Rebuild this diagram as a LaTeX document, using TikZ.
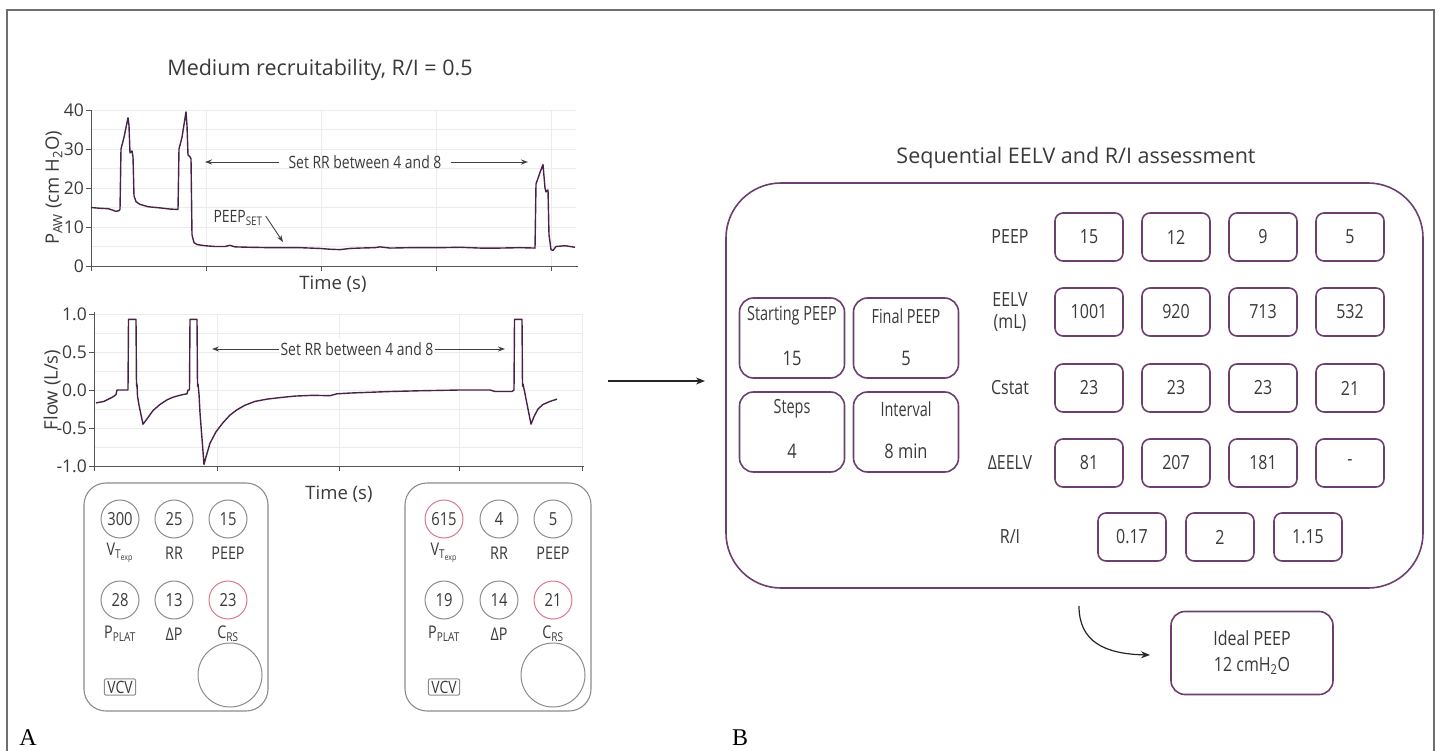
\documentclass[tikz,border=0pt]{standalone}
\usepackage{fontspec}
\setmainfont{Open Sans}
\newfontfamily\condfont[FakeStretch=0.82]{Open Sans}
\newfontfamily\narrowfont[FakeStretch=0.74]{Open Sans}
\newfontfamily\serifA{Liberation Serif}
\usetikzlibrary{arrows.meta}
\definecolor{curvec}{HTML}{4A2248}
\definecolor{boxc}{HTML}{6D3F6F}
\definecolor{txt}{HTML}{3A3A3A}
\definecolor{gridc}{HTML}{ECECEC}
\definecolor{axisc}{HTML}{555555}
\definecolor{circg}{HTML}{8C8C8C}
\definecolor{circred}{HTML}{E0758C}
\definecolor{framec}{HTML}{6E6E6E}
\definecolor{annc}{HTML}{404040}
\begin{document}
\begin{tikzpicture}[x=1pt,y=-1pt,
  ax/.style={draw=axisc, line width=0.9},
  gridl/.style={draw=gridc, line width=0.8},
  wave/.style={draw=curvec, line width=1.4, line join=round},
  ann/.style={draw=annc, line width=0.9, -{Stealth[length=7pt,width=5pt]}},
  conn/.style={draw=black!85, line width=1.2, -{Stealth[length=9pt,width=7pt]}},
  ticklab/.style={font=\fontsize{17.5}{17.5}\selectfont, text=txt, inner sep=1pt},
  axlab/.style={font=\fontsize{18.5}{18.5}\selectfont, text=txt},
  title/.style={font=\fontsize{21.5}{21.5}\selectfont, text=txt},
  annlab/.style={font=\condfont\fontsize{17}{17}\selectfont, text=txt},
  pbox/.style={draw=circg, line width=1.1, rounded corners=22},
  circ/.style={circle, draw=circg, line width=1, minimum size=38pt, inner sep=0pt, font=\condfont\fontsize{18}{18}\selectfont, text=txt},
  circr/.style={circ, draw=circred},
  bigcirc/.style={circle, draw=circg, line width=1, minimum size=64pt, inner sep=0pt},
  clab/.style={font=\condfont\fontsize{17.5}{17.5}\selectfont, text=txt},
  vcv/.style={draw=circg, line width=1, rounded corners=2, inner xsep=3pt, inner ysep=2pt, font=\condfont\fontsize{17}{17}\selectfont, text=txt},
  vbox/.style={draw=boxc, line width=1.6, rounded corners=8, minimum width=68pt, minimum height=48pt, inner sep=0pt, font=\condfont\fontsize{19.5}{19.5}\selectfont, text=txt},
  rlab/.style={font=\condfont\fontsize{19.5}{22}\selectfont, text=txt, align=center},
  parbox/.style={draw=boxc, line width=1.6, rounded corners=14, minimum width=105pt, minimum height=80pt},
  parlab/.style={font=\narrowfont\fontsize{19.5}{19.5}\selectfont, text=txt},
  parval/.style={font=\condfont\fontsize{20}{20}\selectfont, text=txt},
  bigbox/.style={draw=boxc, line width=1.6, rounded corners=55},
  idealbox/.style={draw=boxc, line width=1.6, rounded corners=14, minimum width=162pt, minimum height=83pt, align=center, font=\condfont\fontsize{19.5}{26}\selectfont, text=txt},
  panlab/.style={font=\serifA\fontsize{24}{24}\selectfont, text=black}
]
\useasboundingbox (0,0) rectangle (1440,751);
\fill[white] (0,0) rectangle (1440,751);
\draw[framec, line width=2.2] (7,760) -- (7,10) -- (1434,10) -- (1434,760);

% ---------------- Panel A ----------------
\node[title] (titleA) at (320,70) {Medium recruitability, R/I = 0.5};

% Pressure plot
\foreach \v in {5,10,...,40} \draw[gridl] (91,{266-3.9*\v}) -- (576,{266-3.9*\v});
\foreach \x in {206,321,436,551} \draw[gridl] (\x,110) -- (\x,266);
\draw[ax] (91,110) -- (91,266) -- (578,266);
\foreach \v/\n in {0/a,10/b,20/c,30/d,40/e} {
  \draw[ax] (86,{266-3.9*\v}) -- (91,{266-3.9*\v});
  \node[ticklab, anchor=east] (pl\n) at (85,{266-3.9*\v}) {\v};
}
\foreach \x in {91,206,321,436,551} \draw[ax] (\x,266) -- (\x,271);
\node[axlab, rotate=90] (ylab1) at (54,188) {P\textsubscript{AW} (cm H\textsubscript{2}O)};
\node[axlab] (xlab1) at (333,284) {Time (s)};
\begin{scope}[shift={(0,266)}, yscale=-3.9]
\draw[wave] plot coordinates {(91,15) (100,14.8) (108,14.7) (113,14.3) (116,14.0) (119,14.2) (120,14.5) (121,30) (124,33) (128,38) (129,36) (130,29) (132,29.5) (133,28) (134,18) (136,16.5) (140,15.8) (148,15.2) (160,14.9) (170,14.6) (178,14.5) (179,30) (182,33) (186,39.5) (187,36) (188,28.5) (190,28) (191,27.5) (192,8) (194,6) (197,5.5) (205,5.2) (215,5) (225,5) (230,5.3) (235,4.9) (250,4.8) (270,4.7) (300,4.7) (320,4.5) (330,4.3) (340,4.2) (350,4.5) (360,4.6) (375,4.7) (380,4.9) (390,4.6) (410,4.7) (440,4.7) (460,4.8) (480,4.6) (500,4.6) (520,4.7) (535,4.6) (536,21) (540,24) (543,26) (545,20) (546,19) (548,19.5) (549,8) (551,4.2) (553,4) (556,5) (565,5.2) (570,5) (575,4.8)};
\end{scope}
\node[annlab, inner xsep=9pt] (rr1) at (365,162) {Set RR between 4 and 8};
\coordinate (rr1l) at (205,162);
\coordinate (rr1r) at (528,162);
\draw[ann] (rr1.west) -- (rr1l);
\draw[ann] (rr1.east) -- (rr1r);
\node[annlab, inner sep=1pt] (peepset) at (238,218) {PEEP\textsubscript{SET}};
\coordinate (peeptip) at (283,242);
\draw[ann] ([xshift=2pt,yshift=2pt]peepset.east) -- (peeptip);

% Flow plot
\foreach \v in {-0.75,-0.5,-0.25,0,0.25,0.5,0.75,1} \draw[gridl] (94,{390-76*\v}) -- (582,{390-76*\v});
\foreach \x in {217,339,459,582} \draw[gridl] (\x,314) -- (\x,466);
\draw[ax] (94,312) -- (94,466) -- (584,466);
\foreach \v/\t/\n in {1/1.0/a,0.5/0.5/b,0/0.0/c,-0.5/-0.5/d,-1/-1.0/e} {
  \draw[ax] (89,{390-76*\v}) -- (94,{390-76*\v});
  \node[ticklab, anchor=east] (fl\n) at (88,{390-76*\v}) {\t};
}
\foreach \x in {94,217,339,459,582} \draw[ax] (\x,466) -- (\x,471);
\node[axlab, rotate=90] (ylab2) at (52,390) {Flow (L/s)};
\node[axlab] (xlab2) at (339,494) {Time (s)};
\begin{scope}[shift={(0,390)}, yscale=-76]
\draw[wave] plot coordinates {(96,-0.17) (104,-0.15) (110,-0.11) (113,-0.09) (116,-0.06) (117,0) (122,0.0) (128,0.0) (128.5,0.93) (136,0.93) (136.5,0.05) (137,0.08) (137.5,-0.08) (139,-0.2) (143,-0.45) (147,-0.38) (153,-0.27) (160,-0.19) (167,-0.13) (172,-0.1) (177,-0.08) (183,-0.06) (187,-0.05) (188,0) (189.5,0) (190,0.93) (197,0.93) (197.5,0.05) (198,0.08) (199,-0.05) (200,-0.3) (204,-0.98) (206,-0.88) (210,-0.7) (216,-0.55) (223,-0.43) (230,-0.33) (237,-0.26) (245,-0.2) (255,-0.15) (267,-0.12) (280,-0.1) (295,-0.08) (313,-0.07) (330,-0.075) (337,-0.05) (350,-0.04) (370,-0.03) (390,-0.02) (420,-0.01) (460,0) (490,0) (495,-0.02) (512,-0.02) (514,0) (514.5,0.93) (522,0.93) (522.5,0.05) (523,0.08) (525,-0.05) (531,-0.45) (534,-0.35) (538,-0.25) (543,-0.19) (550,-0.15) (557,-0.12)};
\end{scope}
\node[annlab, inner xsep=1pt, fill=white] (rr2) at (357,349) {Set RR between 4 and 8};
\coordinate (rr2l) at (212,349);
\coordinate (rr2r) at (505,349);
\draw[ann] (rr2.west) -- (rr2l);
\draw[ann] (rr2.east) -- (rr2r);

% Ventilator panels
\draw[pbox] (84,483) rectangle (268,711);
\node[circ] (l1) at (120,519) {300};
\node[circ] (l2) at (174,519) {25};
\node[circ] (l3) at (228,519) {15};
\node[circ] (l4) at (120,600) {28};
\node[circ] (l5) at (174,600) {13};
\node[circr] (l6) at (228,600) {23};
\node[clab] (ll1) at (120,553) {V\textsubscript{T\textsubscript{exp}}};
\node[clab] (ll2) at (174,553) {RR};
\node[clab] (ll3) at (228,553) {PEEP};
\node[clab] (ll4) at (120,634) {P\textsubscript{PLAT}};
\node[clab] (ll5) at (174,634) {ΔP};
\node[clab] (ll6) at (228,634) {C\textsubscript{RS}};
\node[bigcirc] (lbig) at (230,675) {};
\node[vcv] (lvcv) at (120,687) {VCV};

\draw[pbox] (405,483) rectangle (591,711);
\node[circr] (r1) at (444,519) {615};
\node[circ] (r2) at (499,519) {4};
\node[circ] (r3) at (553,519) {5};
\node[circ] (r4) at (444,600) {19};
\node[circ] (r5) at (499,600) {14};
\node[circr] (r6) at (553,600) {21};
\node[clab] (rl1) at (444,553) {V\textsubscript{T\textsubscript{exp}}};
\node[clab] (rl2) at (499,553) {RR};
\node[clab] (rl3) at (553,553) {PEEP};
\node[clab] (rl4) at (444,634) {P\textsubscript{PLAT}};
\node[clab] (rl5) at (499,634) {ΔP};
\node[clab] (rl6) at (553,634) {C\textsubscript{RS}};
\node[bigcirc] (rbig) at (553,675) {};
\node[vcv] (rvcv) at (444,687) {VCV};

\node[panlab] (labA) at (28,738) {A};

% ---------------- Panel B ----------------
\coordinate (marrs) at (608,381);
\coordinate (marre) at (705,381);
\draw[conn] (marrs) -- (marre);

\node[title] (titleB) at (1076,158) {Sequential EELV and R/I assessment};
\draw[bigbox] (726,183) rectangle (1423,588);

\node[parbox] (spb) at (792,338) {};
\node[parlab] (spl) at (792,316) {Starting PEEP};
\node[parval] (spv) at (792,358) {15};
\node[parbox] (fpb) at (906,338) {};
\node[parlab] (fpl) at (906,316) {Final PEEP};
\node[parval] (fpv) at (906,358) {5};
\node[parbox] (stb) at (792,432) {};
\node[parlab] (stl) at (792,409) {Steps};
\node[parval] (stv) at (792,451) {4};
\node[parbox] (inb) at (906,432) {};
\node[parlab] (inl) at (906,409) {Interval};
\node[parval] (inv) at (906,451) {8 min};

\node[rlab] (lpeep) at (1010,237) {PEEP};
\node[rlab] (leelv) at (1010,312) {EELV\\(mL)};
\node[rlab] (lcstat) at (1010,388) {Cstat};
\node[rlab] (ldeelv) at (1010,463) {ΔEELV};
\node[rlab] (lri) at (1010,537) {R/I};

\foreach \x/\a/\b/\c/\d/\n in {1089/15/1001/23/81/1, 1176/12/920/23/207/2, 1263/9/713/23/181/3, 1350/5/532/21/-/4} {
  \node[vbox] (peep\n) at (\x,237) {\a};
  \node[vbox] (eelv\n) at (\x,312) {\b};
  \node[vbox] (cst\n) at (\x,388) {\c};
  \node[vbox] (deelv\n) at (\x,463) {\d};
}
\node[vbox] (ri1) at (1132,537) {0.17};
\node[vbox] (ri2) at (1220,537) {2};
\node[vbox] (ri3) at (1308,537) {1.15};

\node[idealbox] (ideal) at (1252,653) {Ideal PEEP\\12 cmH\textsubscript{2}O};
\coordinate (cs) at (1079,606);
\coordinate (ce) at (1150,655);
\draw[conn] (cs) .. controls (1079,642) and (1105,654) .. (ce);

\node[panlab] (labB) at (740,738) {B};
\end{tikzpicture}
\end{document}
